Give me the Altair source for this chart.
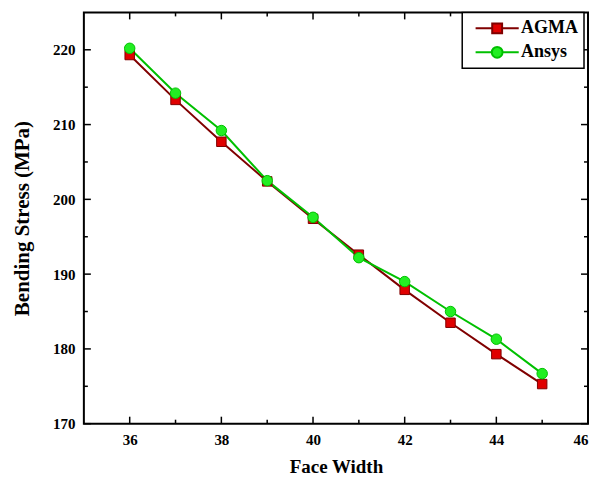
import altair as alt
import pandas as pd

face_width = [36, 37, 38, 39, 40, 41, 42, 43, 44, 45]
agma = [219.3, 213.3, 207.7, 202.4, 197.4, 192.6, 187.9, 183.5, 179.3, 175.3]
ansys = [220.2, 214.2, 209.2, 202.5, 197.6, 192.2, 189.0, 185.0, 181.3, 176.7]
series = ["AGMA", "Ansys"]
x_major = [36, 38, 40, 42, 44, 46]
x_minor = [37, 39, 41, 43, 45]
y_major = [170, 180, 190, 200, 210, 220]
y_minor = [175, 185, 195, 205, 215]

line_colors = ["#800000", "#00c000"]
fill_colors = ["#e00000", "#22ee22"]
legend_paths = [
    "M-2.4,0L-0.55,0M-0.55,-0.55L0.55,-0.55L0.55,0.55L-0.55,0.55ZM0.55,0L2.4,0",
    "M-2.4,0L-0.6,0M-0.6,0A0.6,0.6,0,1,1,0.6,0A0.6,0.6,0,1,1,-0.6,0ZM0.6,0L2.4,0",
]

W, H = 505, 412
FONT = "Liberation Serif"

df = pd.DataFrame({
    "x": face_width * 2,
    "y": agma + ansys,
    "series": [series[0]] * len(face_width) + [series[1]] * len(face_width),
})

xscale = alt.Scale(domain=[35, 46], nice=False, zero=False)
yscale = alt.Scale(domain=[170, 225], nice=False, zero=False)
fill_scale = alt.Scale(domain=series, range=fill_colors)
stroke_scale = alt.Scale(domain=series, range=line_colors)
xaxis = alt.Axis(values=x_major, title="Face Width", ticks=False, domain=False, grid=False,
                 labelPadding=9, titlePadding=10, format="d", titleFontSize=19)
yaxis = alt.Axis(values=y_major, title="Bending Stress (MPa)", ticks=False, domain=False, grid=False,
                 labelPadding=9, titlePadding=20, format="d", titleFontSize=21)
leg = alt.Legend(title=None, orient="none", legendX=379, legendY=0, symbolOffset=19)


def X(field):
    return alt.X(field, scale=xscale, axis=xaxis, title="Face Width")


def Y(field):
    return alt.Y(field, scale=yscale, axis=yaxis, title="Bending Stress (MPa)")


base = alt.Chart(df)

lines = base.mark_line(strokeWidth=2).encode(
    x=X("x:Q"), y=Y("y:Q"),
    stroke=alt.Stroke("series:N", scale=stroke_scale, legend=leg),
)


def pts(name, shape, size):
    return base.transform_filter(alt.datum.series == name).mark_point(
        shape=shape, filled=True, size=size, opacity=1, strokeWidth=1
    ).encode(
        x=X("x:Q"), y=Y("y:Q"),
        color=alt.Color("series:N", scale=fill_scale, legend=leg),
        stroke=alt.Stroke("series:N", scale=stroke_scale, legend=leg),
    )


pts_agma = pts(series[0], "square", 90)
pts_ansys = pts(series[1], "circle", 110)

legend_layer = base.transform_filter("datum.x < 0").mark_point(filled=True, opacity=1).encode(
    x=X("x:Q"), y=Y("y:Q"),
    color=alt.Color("series:N", scale=fill_scale, legend=leg),
    stroke=alt.Stroke("series:N", scale=stroke_scale, legend=leg),
    shape=alt.Shape("series:N", scale=alt.Scale(domain=series, range=legend_paths), legend=leg),
)


def xticks(vals, length):
    d = alt.Chart(pd.DataFrame({"x": vals}))
    bottom = d.mark_rule(color="black", strokeWidth=1.5).encode(
        x=X("x:Q"), y=alt.value(H), y2=alt.value(H - length))
    top = d.mark_rule(color="black", strokeWidth=1.5).encode(
        x=X("x:Q"), y=alt.value(0), y2=alt.value(length))
    return [bottom, top]


def yticks(vals, length):
    d = alt.Chart(pd.DataFrame({"y": vals}))
    left = d.mark_rule(color="black", strokeWidth=1.5).encode(
        y=Y("y:Q"), x=alt.value(0), x2=alt.value(length))
    right = d.mark_rule(color="black", strokeWidth=1.5).encode(
        y=Y("y:Q"), x=alt.value(W), x2=alt.value(W - length))
    return [left, right]


layers = [lines, pts_agma, pts_ansys, legend_layer] + xticks(x_major, 7) + xticks(x_minor, 4) \
    + yticks(y_major, 7) + yticks(y_minor, 4)

chart = alt.layer(*layers).properties(
    width=W, height=H,
    autosize=alt.AutoSizeParams(type="none"),
    padding={"left": 76, "top": 4, "right": 2, "bottom": 56},
).configure_view(
    stroke="black", strokeWidth=2
).configure_axis(
    labelFont=FONT, labelFontSize=15, labelFontWeight="bold", labelColor="black",
    titleFont=FONT, titleFontWeight="bold", titleColor="black",
).configure_legend(
    labelFont=FONT, labelFontSize=18, labelFontWeight="bold", labelColor="black",
    strokeColor="black", strokeWidth=1.5, padding=6, symbolSize=324,
    symbolStrokeWidth=2, labelOffset=14, rowPadding=5, fillColor="white",
)

chart.save("out.html", embed_options={"renderer": "svg", "actions": False})
